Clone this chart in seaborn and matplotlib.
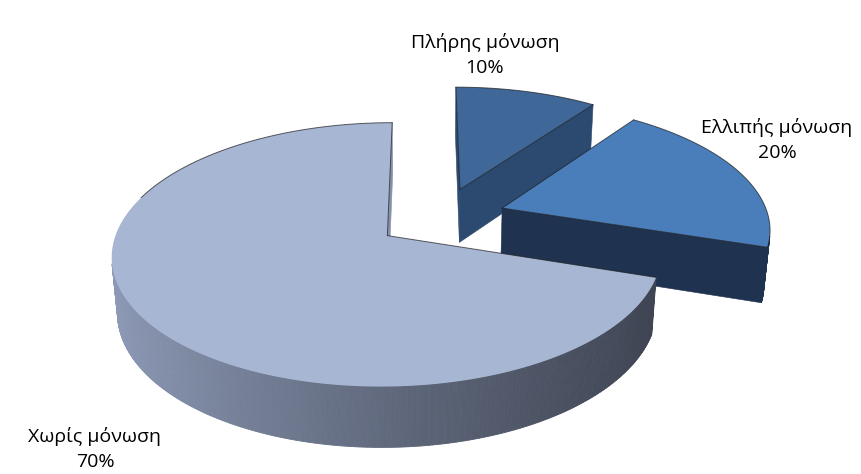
import numpy as np
import matplotlib
matplotlib.use("Agg")
import matplotlib.pyplot as plt
import seaborn as sns
from matplotlib.collections import PolyCollection

# ---------------- data ----------------
categories = ["Πλήρης μόνωση", "Ελλιπής μόνωση", "Χωρίς μόνωση"]
values = [10, 20, 70]

# ---------------- styles ----------------
top_colors = ["#3F6797", "#4A7EBB", "#A7B6D3"]
cut_colors = ["#2C4A70", "#1F3350", "#8391AD"]
wall_left = ["#2C4A70", "#1F3350", "#8F9CB8"]
wall_right = ["#2C4A70", "#1F3350", "#3E4452"]
arc_outline_min_cos = [-1.0, -1.0, 0.3]
label_pos = [(485, 42), (777, 127), (95, 436)]

sns.set_theme(style="white")
plt.rcParams['font.family'] = ['Open Sans', 'DejaVu Sans']

W_PX, H_PX = 862, 474
fig = plt.figure(figsize=(W_PX / 100, H_PX / 100), dpi=100)
ax = fig.add_axes([0, 0, 1, 1])
ax.set_xlim(0, W_PX)
ax.set_ylim(H_PX, 0)
ax.axis("off")

# ---------------- 3D projection (perspective) ----------------
SX0, SY0 = 426.0, 236.0
G = 272.0
PHI = np.arcsin(129.3 / 272.0)
D = np.cos(PHI) / 0.144
DEPTH = 0.234
CENTER = np.array([0.056, 0.147])
EXPLODE = 0.245
CAM = np.array([0.0, -D * np.cos(PHI), D * np.sin(PHI)])


def project(X, Y, Z):
    X = np.asarray(X, float); Y = np.asarray(Y, float); Z = np.asarray(Z, float)
    V = Y * np.sin(PHI) + Z * np.cos(PHI)
    Wd = 1 + (Y * np.cos(PHI) - Z * np.sin(PHI)) / D
    return SX0 + G * X / Wd, SY0 - G * V / Wd


def visible(P, n):
    return np.dot(CAM - P, n) > 0


def mix(c1, c2, t):
    a = np.array(matplotlib.colors.to_rgb(c1))
    b = np.array(matplotlib.colors.to_rgb(c2))
    return tuple(a + (b - a) * t)


total = float(sum(values))
fracs = np.array(values) / total
starts = np.concatenate([[0], np.cumsum(fracs)[:-1]]) * 2 * np.pi
ends = np.cumsum(fracs) * 2 * np.pi

slices = []
for i in range(len(values)):
    a0, a1 = starts[i], ends[i]
    mid = (a0 + a1) / 2
    vx, vy = CENTER + EXPLODE * np.array([np.sin(mid), np.cos(mid)])
    slices.append((i, a0, a1, vx, vy))

# draw far slices first
slices.sort(key=lambda s: -s[4])

for (i, a0, a1, vx, vy) in slices:
    n = max(int((a1 - a0) / (2 * np.pi) * 720), 12)
    th = np.linspace(a0, a1, n + 1)
    ox = vx + np.sin(th)
    oy = vy + np.cos(th)

    # radial cut faces
    for ang, normal in ((a0, np.array([-np.cos(a0), np.sin(a0), 0])),
                        (a1, np.array([np.cos(a1), -np.sin(a1), 0]))):
        px, py = vx + 0.5 * np.sin(ang), vy + 0.5 * np.cos(ang)
        if visible(np.array([px, py, -DEPTH / 2]), normal):
            xs = [vx, vx + np.sin(ang), vx + np.sin(ang), vx]
            ys = [vy, vy + np.cos(ang), vy + np.cos(ang), vy]
            zs = [0, 0, -DEPTH, -DEPTH]
            sx, sy = project(xs, ys, zs)
            ax.fill(sx, sy, color=cut_colors[i], lw=0.4, ec=cut_colors[i], zorder=1)

    # curved outer wall
    polys, cols = [], []
    for j in range(n):
        tm = (th[j] + th[j + 1]) / 2
        nrm = np.array([np.sin(tm), np.cos(tm), 0])
        P = np.array([vx + np.sin(tm), vy + np.cos(tm), -DEPTH / 2])
        if not visible(P, nrm):
            continue
        xs = [ox[j], ox[j + 1], ox[j + 1], ox[j]]
        ys = [oy[j], oy[j + 1], oy[j + 1], oy[j]]
        zs = [0, 0, -DEPTH, -DEPTH]
        sx, sy = project(xs, ys, zs)
        polys.append(np.column_stack([sx, sy]))
        t = np.clip((np.mean(sx) - 110) / (660 - 110), 0, 1)
        t = t ** 0.8
        cols.append(mix(wall_left[i], wall_right[i], t))
    if polys:
        ax.add_collection(PolyCollection(polys, facecolors=cols, edgecolors=cols,
                                         linewidths=0.6, zorder=1))

    # top face
    sx, sy = project(np.concatenate([[vx], ox, [vx]]),
                     np.concatenate([[vy], oy, [vy]]),
                     np.zeros(n + 3))
    ax.fill(sx, sy, color=top_colors[i], lw=0, zorder=1)
    # dark outline on radial edges and far arc
    ax.plot(sx[:2], sy[:2], color="#1c1c1c", lw=0.7, alpha=0.7, zorder=1)
    ax.plot(sx[-2:], sy[-2:], color="#1c1c1c", lw=0.7, alpha=0.7, zorder=1)
    far = np.cos(th) > arc_outline_min_cos[i]
    axx, ayy = sx[1:-1].copy(), sy[1:-1].copy()
    axx[~far] = np.nan
    ayy[~far] = np.nan
    ax.plot(axx, ayy, color="#1c1c1c", lw=0.7, alpha=0.7, zorder=1)

# labels
for i, (lx, ly) in enumerate(label_pos):
    ax.text(lx, ly, categories[i], ha="center", va="center", fontsize=14,
            color="#000000")
    ax.text(lx, ly + 26, f"{values[i]}%", ha="center", va="center", fontsize=14,
            color="#000000")

fig.savefig("out.png", dpi=100, facecolor="white")
